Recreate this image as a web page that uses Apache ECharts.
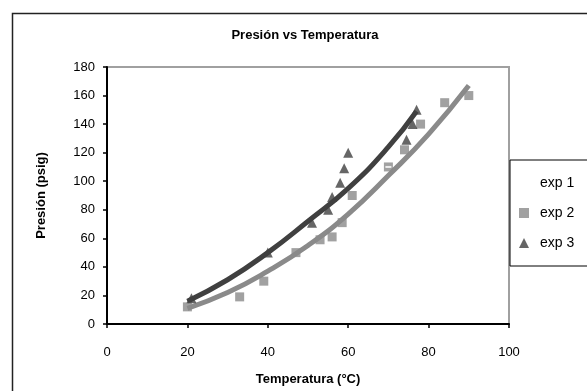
<!DOCTYPE html>
<html>
<head>
<meta charset="utf-8">
<script src="https://cdn.jsdelivr.net/npm/echarts@6/dist/echarts.min.js"></script>
<style>
  html, body { margin: 0; padding: 0; background: #fff; }
  #chart { width: 587px; height: 391px; }
</style>
</head>
<body>
<div id="chart"></div>
<script>
// axis ticks
const xTicks = [0, 20, 40, 60, 80, 100];
const yTicks = [0, 20, 40, 60, 80, 100, 120, 140, 160, 180];

// exp 1 (white markers, barely visible)
const exp1Temp = [53, 66, 70, 76];
const exp1Pres = [68, 101, 110, 134];

// exp 2 (gray squares)
const exp2Temp = [20, 33, 39, 47, 53, 56, 58.5, 61, 70, 74, 78, 84, 90];
const exp2Pres = [12, 19, 30, 50, 59, 61, 71, 90, 110, 122, 140, 155, 160];

// exp 3 (dark triangles)
const exp3Temp = [21, 40, 51, 55, 56, 58, 59, 60, 74.5, 76, 77];
const exp3Pres = [18, 50, 71, 80, 89, 99, 109, 120, 129, 140, 150];

// trend lines
const trend2Temp = [20, 30, 40, 50, 60, 70, 80, 90];
const trend2Pres = [11, 22, 37, 55, 77, 104, 133, 167];
const trend3Temp = [20, 30, 40, 50, 60, 70, 77];
const trend3Pres = [16, 31, 50, 72, 95, 124, 149];

const zip = (xs, ys) => xs.map((x, i) => [x, ys[i]]);

const chart = echarts.init(document.getElementById("chart"));

const font = "Liberation Sans, Arial, sans-serif";

chart.setOption({
  animation: false,
  backgroundColor: "#fff",
  textStyle: { fontFamily: font },
  title: {
    text: "Presión vs Temperatura",
    left: 300,
    textAlign: "center",
    top: 24,
    textStyle: { fontSize: 13, fontWeight: "bold", color: "#000", fontFamily: font },
  },
  graphic: [
    {
      type: "rect",
      left: 10,
      top: 11,
      shape: { width: 620, height: 420 },
      style: { fill: "none", stroke: "#222", lineWidth: 1.5 },
      z: 100,
    },
  ],
  legend: {
    data: ["exp 1", "exp 2", "exp 3"],
    orient: "vertical",
    left: 510,
    top: 160,
    padding: [16, 60, 16, 9],
    itemGap: 16,
    itemWidth: 10,
    itemHeight: 10,
    borderColor: "#000",
    borderWidth: 1,
    backgroundColor: "#fff",
    textStyle: { fontSize: 14, color: "#000", fontFamily: font, padding: [0, 0, 0, 6] },
    z: 10,
  },
  grid: {
    left: 107,
    right: 78,
    top: 67,
    bottom: 66,
    show: true,
    borderColor: "#a0a0a0",
    borderWidth: 2,
  },
  xAxis: {
    type: "value",
    min: xTicks[0],
    max: xTicks[xTicks.length - 1],
    interval: 20,
    name: "Temperatura (°C)",
    nameLocation: "middle",
    nameGap: 49,
    nameTextStyle: { fontSize: 13, fontWeight: "bold", color: "#000", fontFamily: font },
    axisLine: { lineStyle: { color: "#000", width: 2 } },
    axisTick: { length: 4, lineStyle: { color: "#000", width: 1.5 } },
    axisLabel: { fontSize: 13, color: "#000", margin: 22 },
    splitLine: { show: false },
  },
  yAxis: {
    type: "value",
    min: yTicks[0],
    max: yTicks[yTicks.length - 1],
    interval: 20,
    name: "Presión (psig)",
    nameLocation: "middle",
    nameGap: 59,
    nameTextStyle: { fontSize: 13, fontWeight: "bold", color: "#000", fontFamily: font },
    axisLine: { lineStyle: { color: "#000", width: 2 } },
    axisTick: { length: 4, lineStyle: { color: "#000", width: 1.5 } },
    axisLabel: { fontSize: 13, color: "#000", margin: 12 },
    splitLine: { show: false },
  },
  series: [
    {
      name: "trend exp 2",
      type: "line",
      smooth: true,
      showSymbol: false,
      lineStyle: { color: "#8a8a8a", width: 5 },
      data: zip(trend2Temp, trend2Pres),
      z: 2,
    },
    {
      name: "trend exp 3",
      type: "line",
      smooth: true,
      showSymbol: false,
      lineStyle: { color: "#404040", width: 5 },
      data: zip(trend3Temp, trend3Pres),
      z: 2,
    },
    {
      name: "exp 2",
      type: "scatter",
      symbol: "rect",
      symbolSize: 9,
      itemStyle: { color: "#8a8a8a" },
      data: zip(exp2Temp, exp2Pres),
      z: 3,
    },
    {
      name: "exp 3",
      type: "scatter",
      symbol: "triangle",
      symbolSize: 10,
      itemStyle: { color: "#404040" },
      data: zip(exp3Temp, exp3Pres),
      z: 3,
    },
    {
      name: "exp 1",
      type: "scatter",
      symbol: "rect",
      symbolSize: [6, 2],
      itemStyle: { color: "#ffffff" },
      data: zip(exp1Temp, exp1Pres),
      z: 4,
    },
  ],
});
</script>
</body>
</html>
